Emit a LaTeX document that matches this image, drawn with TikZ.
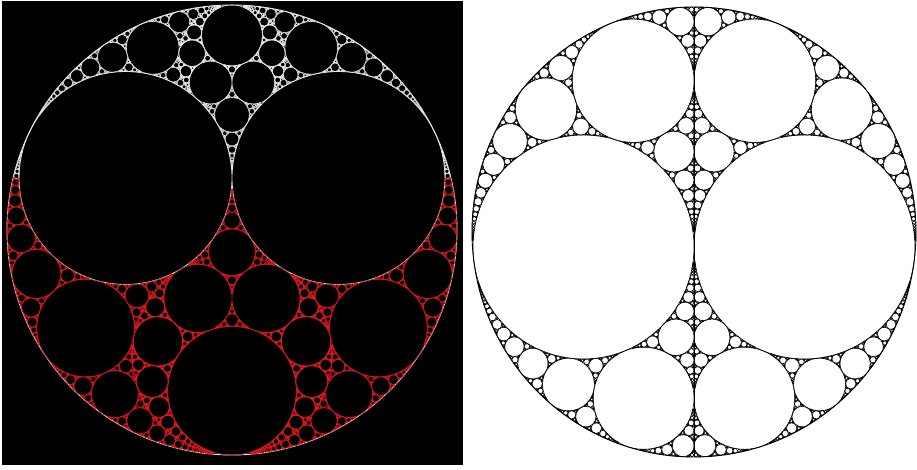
\documentclass[tikz,border=0pt]{standalone}
\usepackage{tikz}
\definecolor{redline}{RGB}{220,22,30}
\makeatletter
\def\kmax{450}
\def\zz{0.2311}
\edef\rr{\fpeval{1-\zz*\zz}}
\def\keepit#1{#1}
\def\dropit#1{}
\def\selK#1;#2;#3\relax{#1}
\def\selA#1;#2;#3\relax{#2}
\def\selB#1;#2;#3\relax{#3}
\def\vieta#1#2#3#4#5{\strip@pt\dimexpr(#1#2\relax pt+#1#3\relax pt+#1#4\relax pt)*2-#1#5\relax pt\relax}
\def\refl#1#2#3#4{\vieta\selK{#1}{#2}{#3}{#4};\vieta\selA{#1}{#2}{#3}{#4};\vieta\selB{#1}{#2}{#3}{#4}}
\def\drawc#1;#2;#3\relax{\drawone{#1}{#2}{#3}}
\def\seedc#1;#2;#3\relax{\ifdim#1pt<\kmax pt\relax\drawone{#1}{#2}{#3}\fi}
\newcommand\gap[4]{%
  \ifdim\selK#4\relax pt<\kmax pt\relax\expandafter\keepit\else\expandafter\dropit\fi
  {\drawc#4\relax
   \edef\nxt{\noexpand\gap{#1}{#2}{#4}{\refl{#1}{#2}{#4}{#3}}%
     \noexpand\gap{#2}{#3}{#4}{\refl{#2}{#3}{#4}{#1}}%
     \noexpand\gap{#1}{#3}{#4}{\refl{#1}{#3}{#4}{#2}}}%
   \nxt}}
\newcommand\incirc[4]{%
  \edef\ika{\expandafter\selK#1\relax}\edef\ikb{\expandafter\selK#2\relax}\edef\ikc{\expandafter\selK#3\relax}%
  \edef\iaa{\expandafter\selA#1\relax}\edef\iab{\expandafter\selA#2\relax}\edef\iac{\expandafter\selA#3\relax}%
  \edef\iba{\expandafter\selB#1\relax}\edef\ibb{\expandafter\selB#2\relax}\edef\ibc{\expandafter\selB#3\relax}%
  \edef\isK{\fpeval{(\ika)+(\ikb)+(\ikc)}}%
  \edef\isQ{\fpeval{sqrt((\ika)*(\ikb)+(\ikb)*(\ikc)+(\ikc)*(\ika))}}%
  \edef\isD{\fpeval{\isK+2*\isQ}}%
  \edef#4{\fpeval{round(\isD,6)};%
    \fpeval{round(((\isK+\isD)*((\iaa)+(\iab)+(\iac))-2*((\ika)*(\iaa)+(\ikb)*(\iab)+(\ikc)*(\iac)))/(2*\isQ),6)};%
    \fpeval{round(((\isK+\isD)*((\iba)+(\ibb)+(\ibc))-2*((\ika)*(\iba)+(\ikb)*(\ibb)+(\ikc)*(\ibc)))/(2*\isQ),6)}}}
\newcommand\tomain[2]{%
  \edef\mk{\expandafter\selK#1\relax}\edef\ma{\expandafter\selA#1\relax}\edef\mb{\expandafter\selB#1\relax}%
  \ifdim\mk pt=0pt
    \ifdim\ma pt<0pt\edef#2{\bgL}\else\edef#2{\bgR}\fi
  \else
    \edef\mq{\fpeval{round(((\ma)^2+((\mb)+\zz*\mk)^2-1)/(\rr*\mk),6)}}%
    \edef#2{\mq;\ma;\fpeval{round(\zz*\mq+(\mb)+\zz*\mk,6)}}%
  \fi}
\newcommand\strgapd[4]{%
  \tomain{#1}\mA\tomain{#2}\mB\tomain{#3}\mC\tomain{#4}\mI
  \edef\go{\noexpand\gap{\mA}{\mB}{\mC}{\mI}}\go}
\newcommand\strgap[3]{\incirc{#1}{#2}{#3}\sI\strgapd{#1}{#2}{#3}{\sI}}
\newcommand\drawseed[1]{\tomain{#1}\mS\expandafter\seedc\mS\relax}
% chain inside W, outside D0 (strip)
\newcommand\chainI[2]{\edef\cr{\fpeval{(1+sqrt(2)/2)*(3+2*sqrt(2))^(#1)}}\edef\cd{\fpeval{0.5+\cr^2}}%
  \edef#2{\fpeval{\cd/\cr};\fpeval{\cd/\cr*(-sqrt(2)/2+sqrt(2)/2/\cd)};\fpeval{\s*\cd/\cr*(2+sqrt(2)/2-sqrt(2)*\cr/\cd)}}}
% chain outside W and D0 (strip)
\newcommand\chainII[2]{\edef\cr{\fpeval{(1+sqrt(2)/2)*(3+2*sqrt(2))^(#1)}}\edef\cd{\fpeval{\cr^2-2*\cr+0.5}}%
  \edef#2{\fpeval{\cd/\cr};\fpeval{\cd/\cr*(-sqrt(2)/2+sqrt(2)*(0.5-\cr)/\cd)};\fpeval{\s*\cd/\cr*(2+sqrt(2)/2)}}}
\newcommand\chain[2]{\edef\cu{\fpeval{2*((#1)*ln(1+sqrt(2))-0.0668)}}%
  \edef#2{\fpeval{round((exp(\cu)+exp(-(\cu)))/2+1,6)};-1;\fpeval{round((exp(\cu)-exp(-(\cu)))/2,6)}}}
\makeatother

\begin{document}
\begin{tikzpicture}[x=1pt,y=1pt,
  wc/.style={draw=white!90!black,line width=.6pt},
  rc/.style={draw=redline,line width=.65pt},
  bc/.style={draw=black,line width=.6pt}]
\fill[white] (0,0) rectangle (917,470);
\fill[black] (2,5) rectangle (463,469);
% left panel
\begin{scope}[shift={(232,240)},scale=225]
\def\drawone#1#2#3{\ifdim#3pt<\dimexpr#1pt*2311/10000\relax\def\cstyle{rc}\else\def\cstyle{wc}\fi
  \draw[\cstyle]({(#2)/(#1)},{(#3)/(#1)})circle({1/(#1)})({-(#2)/(#1)},{(#3)/(#1)})circle({1/(#1)});}
\edef\bgL{\fpeval{round(2/\rr,6)};-1;\fpeval{round(2*\zz/\rr,6)}}
\edef\bgR{\fpeval{round(2/\rr,6)};1;\fpeval{round(2*\zz/\rr,6)}}
\draw[wc,line width=.9pt] (0,0) circle (1);
\draw[wc,line width=.8pt] ({-\rr/2},\zz) circle ({\rr/2}) ({\rr/2},\zz) circle ({\rr/2});
\def\Oo{1;0;0}\def\Wl{0;-1;0}
\foreach \s in {1,-1}{
  \edef\Wp{1;0;\fpeval{2*\s}}
  \edef\Wm{-1;0;\fpeval{-2*\s}}
  \edef\Pl{2;-1;\fpeval{4*\s}}
  \edef\Pr{2;1;\fpeval{4*\s}}
  \edef\Xx{3;0;\fpeval{4*\s}}
  \edef\Dz{1;0;\fpeval{\s*(2+sqrt(2))}}
  \drawseed\Pl
  \strgap\Wl\Oo\Wp
  \strgapd\Wm\Pl\Pr\Xx
  \strgap\Dz\Pl\Pr
  \foreach \n in {0,...,2}{
    \ifnum\n=0 \let\Ca\Pl\else\chainI{\n}\Ca\fi
    \chainI{\n+1}\Cb \drawseed\Cb
    \strgap\Wm\Ca\Cb \strgap\Dz\Ca\Cb
    \ifnum\n=0 \let\Ca\Wl\else\chainII{\n}\Ca\fi
    \chainII{\n+1}\Cb \drawseed\Cb
    \strgap\Wp\Ca\Cb \strgap\Dz\Ca\Cb}
  \foreach \j in {0,...,9}{
    \edef\Da{1;0;\fpeval{\s*(2+sqrt(2)+2*\j)}}
    \edef\Db{1;0;\fpeval{\s*(4+sqrt(2)+2*\j)}}
    \drawseed\Da
    \strgap\Wl\Da\Db}
}
\end{scope}
% right panel
\begin{scope}[shift={(694,238)},xscale=222,yscale=225]
\def\drawone#1#2#3{\draw[bc]({(#2)/(#1)},{(#3)/(#1)})circle({1/(#1)})({-(#2)/(#1)},{(#3)/(#1)})circle({1/(#1)});}
\draw[bc,line width=.9pt] (0,0) circle (1);
\draw[bc] (0,-1) -- (0,1);
\def\Ob{-1;0;0}\def\Lb{0;1;0}
\foreach \n in {-4,...,4}{\chain{\n}\Ca\expandafter\seedc\Ca\relax}
\foreach \n in {-4,...,3}{
  \chain{\n}\Ca\chain{\n+1}\Cb
  \incirc\Ob\Ca\Cb\Ia\incirc\Lb\Ca\Cb\Ib
  \edef\go{\noexpand\gap{\Ob}{\Ca}{\Cb}{\Ia}\noexpand\gap{\Lb}{\Ca}{\Cb}{\Ib}}\go}
\end{scope}
\end{tikzpicture}
\end{document}
